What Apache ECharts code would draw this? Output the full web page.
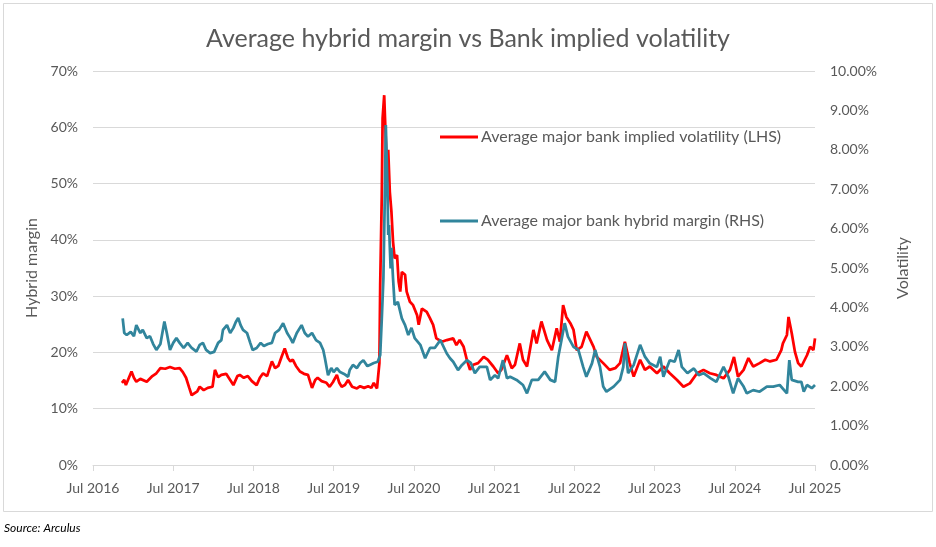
<!DOCTYPE html>
<html><head><meta charset="utf-8">
<script src="https://cdn.jsdelivr.net/npm/echarts@6/dist/echarts.min.js"></script>
<style>html,body{margin:0;padding:0;background:#fff}#c{width:936px;height:547px}</style>
</head><body><div id="c"></div>
<script>
// Average major bank implied volatility (LHS, %) — decimal year, value
const volYears = [2016.86,2016.89,2016.91,2016.98,2017.01,2017.04,2017.09,2017.17,2017.24,2017.29,2017.34,2017.40,2017.46,2017.52,2017.58,2017.62,2017.66,2017.70,2017.73,2017.75,2017.80,2017.83,2017.88,2017.93,2017.99,2018.02,2018.06,2018.10,2018.16,2018.21,2018.25,2018.30,2018.33,2018.38,2018.43,2018.48,2018.54,2018.58,2018.62,2018.67,2018.73,2018.77,2018.81,2018.85,2018.89,2018.93,2018.96,2018.99,2019.03,2019.08,2019.13,2019.18,2019.23,2019.27,2019.30,2019.35,2019.41,2019.45,2019.49,2019.54,2019.57,2019.60,2019.64,2019.68,2019.73,2019.79,2019.83,2019.88,2019.93,2019.97,2020.00,2020.04,2020.07,2020.08,2020.10,2020.11,2020.13,2020.14,2020.16,2020.18,2020.20,2020.22,2020.24,2020.26,2020.29,2020.31,2020.33,2020.35,2020.39,2020.41,2020.45,2020.49,2020.54,2020.56,2020.60,2020.66,2020.70,2020.74,2020.78,2020.85,2020.91,2020.99,2021.03,2021.07,2021.12,2021.16,2021.20,2021.24,2021.30,2021.37,2021.42,2021.49,2021.55,2021.59,2021.66,2021.72,2021.76,2021.82,2021.86,2021.91,2021.99,2022.03,2022.09,2022.16,2022.22,2022.28,2022.32,2022.36,2022.40,2022.45,2022.49,2022.53,2022.59,2022.65,2022.74,2022.78,2022.86,2022.94,2023.01,2023.07,2023.13,2023.19,2023.24,2023.32,2023.38,2023.44,2023.53,2023.61,2023.69,2023.78,2023.86,2023.94,2024.03,2024.11,2024.19,2024.27,2024.36,2024.44,2024.49,2024.54,2024.61,2024.67,2024.73,2024.81,2024.88,2024.94,2025.02,2025.08,2025.10,2025.15,2025.17,2025.21,2025.25,2025.29,2025.33,2025.40,2025.44,2025.48,2025.50];
const volValues = [14.6,15.1,14.2,16.6,15.5,14.8,15.3,14.8,15.8,16.3,17.2,17.1,17.4,17.1,17.2,16.5,15.5,13.7,12.4,12.1,13.1,13.9,13.3,13.7,13.9,16.9,15.6,16.0,16.2,15.1,14.2,15.8,16.0,15.5,15.8,14.9,14.2,15.5,16.3,15.8,18.4,17.2,17.6,19.2,20.7,19.0,18.4,18.7,17.6,16.6,16.2,16.0,13.7,15.1,15.5,14.9,14.6,13.9,14.7,16.0,14.6,13.9,14.2,15.1,13.9,13.6,14.0,13.7,14.0,13.7,14.6,13.6,18.1,32.0,48.0,61.6,65.7,61.6,53.9,56.0,48.5,45.0,39.7,36.7,37.3,32.6,30.8,34.3,33.8,30.8,29.0,28.4,26.6,24.9,27.8,27.2,26.1,24.9,22.5,21.9,22.2,22.5,21.3,22.2,21.0,18.7,16.9,17.8,18.1,19.2,18.7,17.5,16.3,16.9,19.5,17.2,17.8,21.6,18.7,17.5,24.0,21.6,25.5,22.2,20.4,24.3,21.9,28.4,26.3,25.2,24.0,20.4,21.0,23.7,21.0,19.2,18.1,16.9,17.2,18.1,21.9,18.1,15.7,18.7,16.9,17.5,16.3,17.5,16.3,15.1,13.9,14.5,16.3,16.9,16.3,16.0,15.4,16.9,19.2,15.7,16.9,19.0,17.5,18.1,18.7,18.4,18.7,20.4,21.6,23.1,26.3,23.4,20.1,18.1,17.5,19.5,21.0,20.4,22.5];

// Average major bank hybrid margin (RHS, %) — decimal year, value
const marginYears = [2016.87,2016.89,2016.92,2016.97,2017.01,2017.04,2017.09,2017.12,2017.17,2017.21,2017.25,2017.29,2017.34,2017.39,2017.42,2017.46,2017.50,2017.54,2017.58,2017.63,2017.68,2017.73,2017.79,2017.83,2017.87,2017.91,2017.96,2018.01,2018.06,2018.10,2018.12,2018.17,2018.21,2018.25,2018.28,2018.31,2018.34,2018.37,2018.42,2018.46,2018.49,2018.54,2018.59,2018.63,2018.68,2018.73,2018.77,2018.82,2018.87,2018.92,2018.96,2018.99,2019.04,2019.10,2019.14,2019.18,2019.23,2019.28,2019.33,2019.37,2019.39,2019.43,2019.47,2019.50,2019.54,2019.58,2019.63,2019.68,2019.70,2019.74,2019.79,2019.83,2019.87,2019.92,2019.95,2020.00,2020.05,2020.08,2020.10,2020.12,2020.14,2020.15,2020.17,2020.18,2020.19,2020.21,2020.22,2020.24,2020.26,2020.30,2020.35,2020.39,2020.43,2020.47,2020.51,2020.58,2020.64,2020.70,2020.76,2020.83,2020.91,2020.95,2020.99,2021.05,2021.10,2021.16,2021.21,2021.26,2021.32,2021.41,2021.45,2021.51,2021.55,2021.61,2021.66,2021.70,2021.78,2021.86,2021.91,2021.97,2022.05,2022.13,2022.20,2022.26,2022.30,2022.34,2022.38,2022.42,2022.49,2022.55,2022.61,2022.65,2022.72,2022.76,2022.82,2022.86,2022.90,2022.99,2023.07,2023.11,2023.13,2023.17,2023.24,2023.32,2023.38,2023.44,2023.53,2023.57,2023.61,2023.69,2023.75,2023.80,2023.84,2023.91,2023.99,2024.05,2024.11,2024.20,2024.27,2024.36,2024.42,2024.48,2024.54,2024.61,2024.65,2024.73,2024.81,2024.90,2024.98,2025.06,2025.15,2025.18,2025.21,2025.29,2025.33,2025.36,2025.40,2025.46,2025.50];
const marginValues = [3.72,3.35,3.30,3.38,3.27,3.55,3.35,3.43,3.22,3.27,3.07,2.92,3.07,3.64,3.35,2.92,3.10,3.22,3.10,2.97,3.10,2.97,2.88,3.05,3.10,2.92,2.84,2.87,3.10,3.17,3.43,3.55,3.35,3.48,3.63,3.73,3.55,3.43,3.35,3.10,2.92,2.97,3.10,3.02,3.07,3.10,3.35,3.43,3.60,3.35,3.22,3.10,3.35,3.55,3.35,3.26,3.35,3.17,3.10,2.92,2.72,2.28,2.46,2.36,2.46,2.36,2.31,2.24,2.41,2.54,2.46,2.59,2.66,2.51,2.54,2.59,2.62,2.79,3.72,4.74,7.11,8.63,7.11,5.84,6.09,4.99,5.51,4.74,4.06,4.14,3.72,3.55,3.30,3.48,3.22,3.05,2.71,2.97,2.97,3.17,2.83,2.71,2.62,2.41,2.54,2.66,2.59,2.33,2.49,2.49,2.16,2.28,2.20,2.66,2.20,2.24,2.16,2.03,1.82,2.16,2.16,2.37,2.16,2.11,2.75,3.17,3.60,3.26,3.00,2.92,2.49,2.24,2.58,2.92,2.49,1.99,1.86,1.99,2.16,2.49,3.09,2.33,2.54,3.05,2.75,2.58,2.49,2.75,2.24,2.66,2.62,2.92,2.49,2.33,2.45,2.28,2.33,2.20,2.11,2.49,2.24,1.82,2.20,1.99,1.82,1.90,1.86,1.99,1.99,2.03,1.82,2.66,2.16,2.11,2.11,1.86,2.03,1.95,2.03];

// x-axis ticks: July of each year
const tickYears = [2016,2017,2018,2019,2020,2021,2022,2023,2024,2025];

const SER_VOL = 'Average major bank implied volatility (LHS)';
const SER_MAR = 'Average major bank hybrid margin (RHS)';

const toMonths = y => (y - 2016.5) * 12;
const volData = volYears.map((y, i) => [toMonths(y), volValues[i]]);
const marData = marginYears.map((y, i) => [toMonths(y), marginValues[i]]);

const FONT = 'Lato';
const GREY = '#595959';
const legendText = {fontFamily: FONT, fontSize: 16, lineHeight: 16, color: GREY, padding: [0,0,0,-2]};
const chart = echarts.init(document.getElementById('c'), null, {renderer: 'canvas'});
chart.setOption({
  backgroundColor: '#fff',
  animation: false,
  textStyle: {fontFamily: FONT},
  title: {
    text: 'Average hybrid margin vs Bank implied volatility',
    left: 'center', top: 21,
    textStyle: {fontFamily: FONT, fontSize: 25, fontWeight: 'normal', color: GREY}
  },
  legend: [
    {data: [SER_VOL], orient: 'vertical', left: 440, top: 129, padding: 0, itemWidth: 38, itemHeight: 3, itemGap: 0,
     icon: 'rect', textStyle: legendText},
    {data: [SER_MAR], orient: 'vertical', left: 440, top: 213, padding: 0, itemWidth: 38, itemHeight: 3, itemGap: 0,
     icon: 'rect', textStyle: legendText}
  ],
  grid: {left: 93, right: 121, top: 71, bottom: 82, containLabel: false},
  xAxis: {
    type: 'value', min: 0, max: 108, interval: 12,
    axisLine: {show: true, lineStyle: {color: '#d9d9d9', width: 1}},
    axisTick: {show: true, length: 6, lineStyle: {color: '#d9d9d9'}},
    splitLine: {show: false},
    axisLabel: {color: GREY, fontSize: 14, fontFamily: FONT, margin: 16,
      formatter: v => 'Jul ' + tickYears[Math.round(v / 12)]}
  },
  yAxis: [
    {type: 'value', min: 0, max: 70, interval: 10, position: 'left',
     name: 'Hybrid margin', nameLocation: 'middle', nameRotate: 90, nameGap: 53,
     nameTextStyle: {color: GREY, fontSize: 16, fontFamily: FONT},
     axisLine: {show: false}, axisTick: {show: false},
     splitLine: {show: true, lineStyle: {color: '#d9d9d9', width: 1}},
     axisLabel: {color: GREY, fontSize: 14, fontFamily: FONT, margin: 15, formatter: '{value}%'}},
    {type: 'value', min: 0, max: 10, interval: 1, position: 'right',
     name: 'Volatility', nameLocation: 'middle', nameRotate: 90, nameGap: 80,
     nameTextStyle: {color: GREY, fontSize: 16, fontFamily: FONT},
     axisLine: {show: false}, axisTick: {show: false}, splitLine: {show: false},
     axisLabel: {color: GREY, fontSize: 14, fontFamily: FONT, margin: 15,
       formatter: v => v.toFixed(2) + '%'}}
  ],
  series: [
    {name: SER_VOL, type: 'line', yAxisIndex: 0, data: volData, showSymbol: false, symbol: 'none',
     lineStyle: {color: '#ff0000', width: 2.75}, itemStyle: {color: '#ff0000'}, z: 2},
    {name: SER_MAR, type: 'line', yAxisIndex: 1, data: marData, showSymbol: false, symbol: 'none',
     lineStyle: {color: '#31859c', width: 2.75}, itemStyle: {color: '#31859c'}, z: 3}
  ],
  graphic: [
    {type: 'rect', shape: {x: 3.5, y: 3.5, width: 929, height: 508},
     style: {fill: 'none', stroke: '#d9d9d9', lineWidth: 1}, silent: true},
    {type: 'text', left: 4, top: 522,
     style: {text: 'Source: Arculus', fill: '#000', font: 'italic 12px "Liberation Sans Narrow", Lato, sans-serif'}}
  ]
});
</script>
</body></html>
